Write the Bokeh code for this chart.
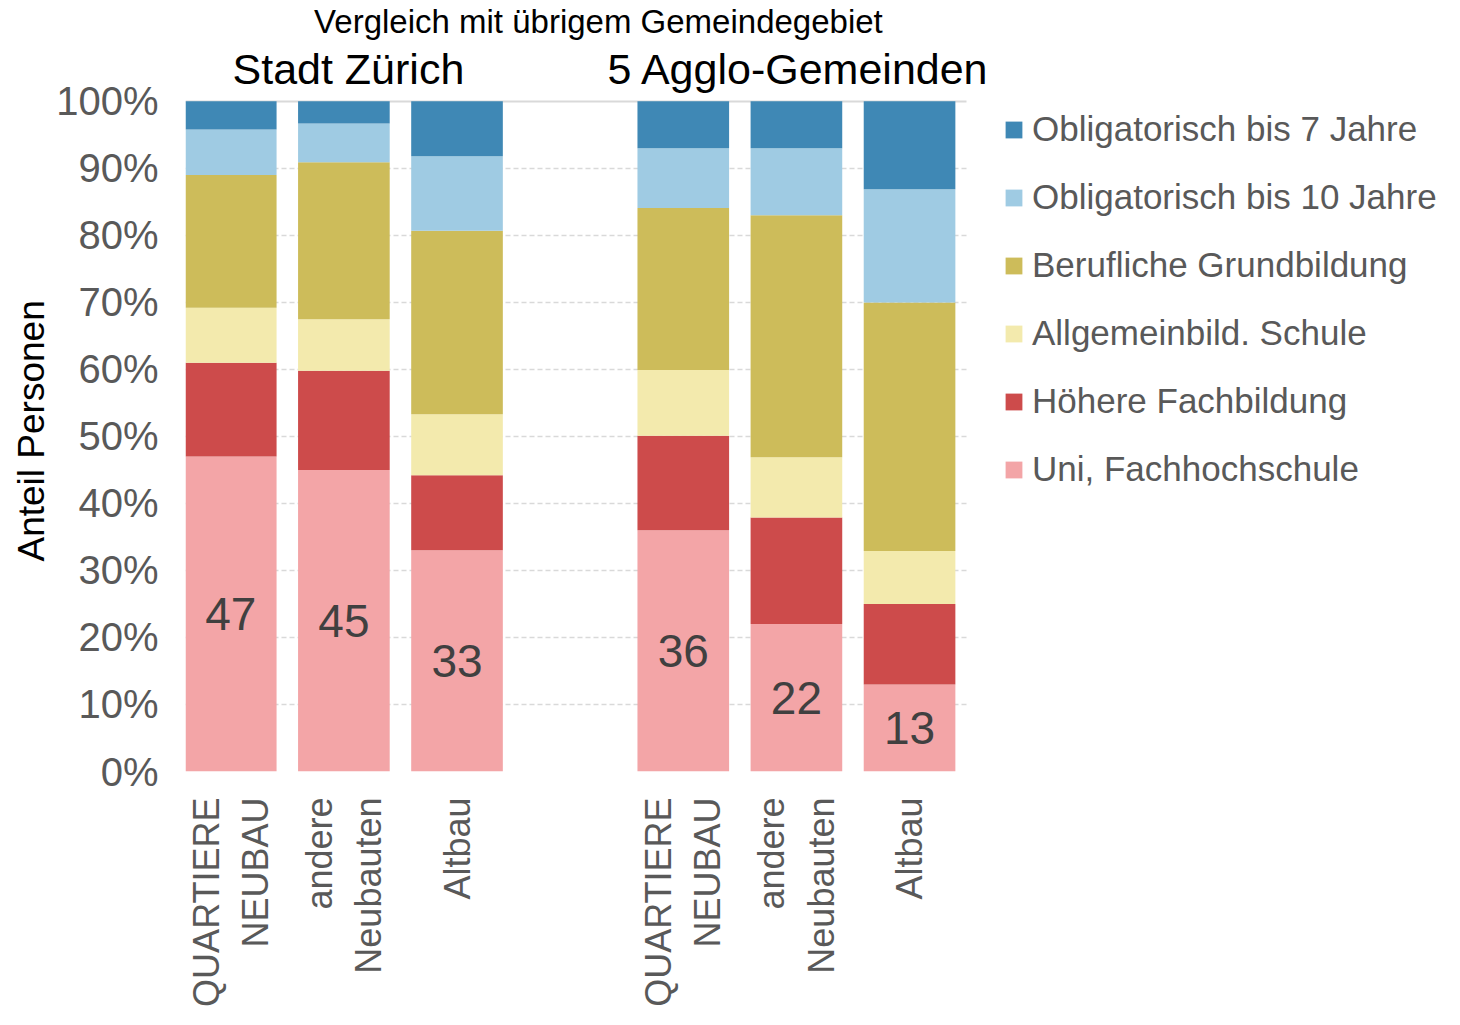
import math
from bokeh.plotting import figure
from bokeh.models import (ColumnDataSource, Range1d, FixedTicker, Legend, LegendItem,
                          Label, Grid, Title)
from bokeh.core.properties import value
from bokeh.embed import file_html
from bokeh.resources import INLINE

# ---- data ----
x_pos = [0, 1, 2, 4, 5, 6]
x_labels = ["QUARTIERE\nNEUBAU", "andere\nNeubauten", "Altbau",
            "QUARTIERE\nNEUBAU", "andere\nNeubauten", "Altbau"]
group_titles = ["Stadt Zürich", "5 Agglo-Gemeinden"]
supertitle = "Vergleich mit übrigem Gemeindegebiet"
y_label = "Anteil Personen"

series = ["Uni, Fachhochschule", "Höhere Fachbildung", "Allgemeinbild. Schule",
          "Berufliche Grundbildung", "Obligatorisch bis 10 Jahre", "Obligatorisch bis 7 Jahre"]
uni    = [47, 45, 33, 36, 22, 13]
hoeher = [14.0, 14.8, 11.2, 14.1, 15.9, 12.0]
allg   = [8.2, 7.7, 9.1, 9.8, 9.0, 7.9]
beruf  = [19.8, 23.4, 27.4, 24.2, 36.1, 37.1]
obl10  = [6.8, 5.8, 11.1, 8.9, 10.0, 16.9]
obl7   = [4.2, 3.3, 8.2, 7.0, 7.0, 13.1]
colors = ["#f3a5a7", "#cd4b4b", "#f3eaad", "#cdbc5a", "#9fcbe3", "#3f88b5"]
y_ticks = [0, 10, 20, 30, 40, 50, 60, 70, 80, 90, 100]

keys = ["uni", "hoeher", "allg", "beruf", "obl10", "obl7"]
src = ColumnDataSource(dict(x=x_pos, uni=uni, hoeher=hoeher, allg=allg, beruf=beruf,
                            obl10=obl10, obl7=obl7,
                            lab=[str(v) for v in uni], ly=[v / 2 for v in uni]))

FONT = "Liberation Sans"
W, H = 1444, 1009
X0, X1 = -0.4, 6.5          # extent of the bar area
PX_X = 113.04               # px per x unit
PX_Y = 6.71                 # px per percent
FL, FB = 185, 772           # frame left / bottom (canvas px)
x_end = X1 + (W - 966) / PX_X
y_end = 100 + (101 - 0) / PX_Y

p = figure(width=W, height=H, output_backend="svg", toolbar_location=None,
           x_range=Range1d(X0, x_end), y_range=Range1d(0, y_end),
           min_border_left=FL, min_border_right=0,
           min_border_top=0, min_border_bottom=H - FB)
p.outline_line_color = None
p.xgrid.grid_line_color = None
p.ygrid.grid_line_color = None

# grid lines limited to bar area
g_dash = Grid(dimension=1, ticker=FixedTicker(ticks=y_ticks[:-1]), cross_bounds=(X0, X1),
              grid_line_color="#d9d9d9", grid_line_width=1.5, grid_line_dash="5 3")
g_top = Grid(dimension=1, ticker=FixedTicker(ticks=[100]), cross_bounds=(X0, X1),
             grid_line_color="#d9d9d9", grid_line_width=2)
p.add_layout(g_dash)
p.add_layout(g_top)

renderers = p.vbar_stack(keys, x="x", width=0.81, source=src, color=colors, line_color=None)

p.text(x="x", y="ly", text="lab", source=src, text_align="center", text_baseline="middle",
       text_font=value(FONT), text_font_size="46px", text_color="#404040")

# axes
p.yaxis.bounds = (0, 100)
p.yaxis.ticker = FixedTicker(ticks=y_ticks)
p.yaxis.major_label_overrides = {t: f"{t}%" for t in y_ticks}
p.yaxis.major_label_text_font = FONT
p.yaxis.major_label_text_font_size = "40px"
p.yaxis.major_label_text_color = "#595959"
p.yaxis.major_tick_line_color = None
p.yaxis.minor_tick_line_color = None
p.yaxis.axis_line_color = None
p.yaxis.major_label_standoff = 21

# y-axis title, centred on the 0-100 % part of the axis
p.add_layout(Title(text=y_label, align="left", offset=FB - 562, standoff=4,
                   text_font=FONT, text_font_size="37px", text_font_style="normal",
                   text_color="#000000"), "left")

p.xaxis.ticker = FixedTicker(ticks=x_pos)
p.xaxis.major_label_overrides = {x: l for x, l in zip(x_pos, x_labels)}
p.xaxis.major_label_orientation = math.pi / 2
p.xaxis.major_label_text_font = FONT
p.xaxis.major_label_text_font_size = "36px"
p.xaxis.major_label_text_color = "#595959"
p.xaxis.major_tick_line_color = None
p.xaxis.minor_tick_line_color = None
p.xaxis.axis_line_color = None
p.xaxis.major_label_standoff = 20

# titles
p.add_layout(Label(x=3.25, y=111.85, text=supertitle, text_align="center", text_baseline="middle",
                   text_font=FONT, text_font_size="33px", text_color="#000000"))
for xc, t in zip([1.04, 5.02], group_titles):
    p.add_layout(Label(x=xc, y=104.8, text=t, text_align="center", text_baseline="middle",
                       text_font=FONT, text_font_size="43px", text_color="#000000"))

# legend
items = [LegendItem(label=s, renderers=[r]) for s, r in zip(series, renderers)][::-1]
legend = Legend(items=items, location=(1003 - FL, FB - 504), padding=0, margin=0, spacing=0,
                glyph_width=21, glyph_height=21, label_height=68, label_standoff=8,
                label_text_font=FONT, label_text_font_size="35px", label_text_color="#595959",
                border_line_color=None, background_fill_alpha=0)
p.add_layout(legend, "center")

open("out.html", "w").write(file_html(p, INLINE))
